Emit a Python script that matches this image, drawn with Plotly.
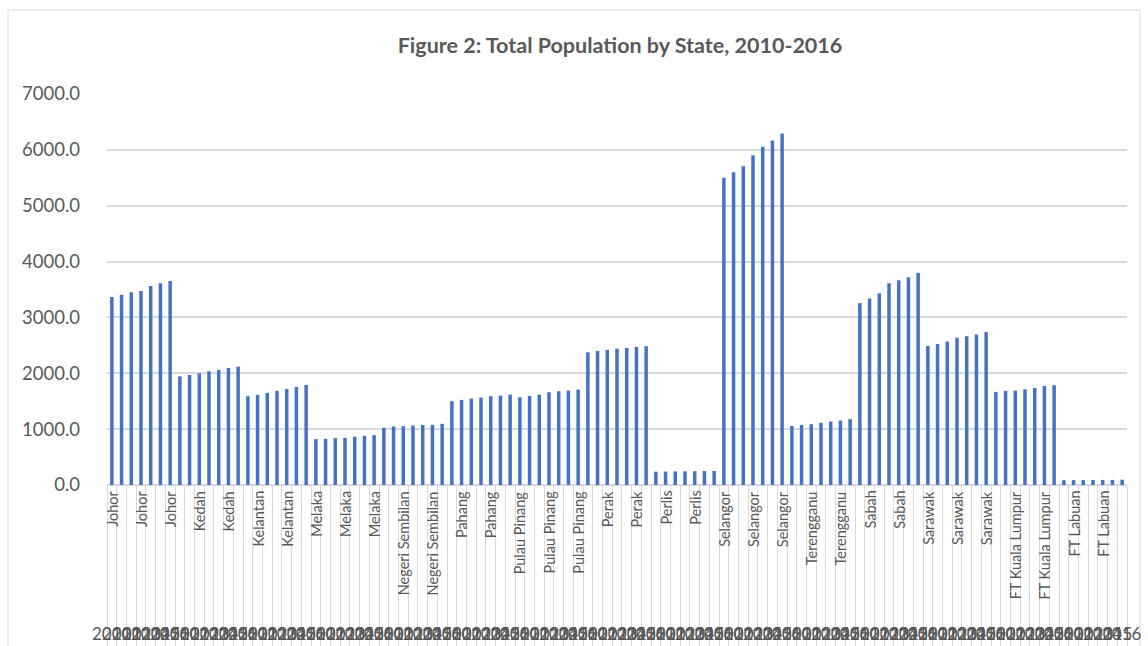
import plotly.graph_objects as go

# Population (thousands) by state, 2010-2016
years = [2010, 2011, 2012, 2013, 2014, 2015, 2016]
states = ["Johor", "Kedah", "Kelantan", "Melaka", "Negeri Sembilan", "Pahang",
          "Pulau Pinang", "Perak", "Perlis", "Selangor", "Terengganu", "Sabah",
          "Sarawak", "FT Kuala Lumpur", "FT Labuan"]

johor = [3365, 3407, 3449, 3473, 3563, 3611, 3653]
kedah = [1946, 1970, 2000, 2036, 2060, 2095, 2119]
kelantan = [1589, 1613, 1649, 1685, 1720, 1756, 1792]
melaka = [821, 827, 839, 845, 863, 881, 893]
negeri_sembilan = [1024, 1048, 1054, 1065, 1074, 1077, 1095]
pahang = [1500, 1524, 1548, 1565, 1589, 1601, 1619]
pulau_pinang = [1571, 1595, 1619, 1661, 1679, 1690, 1708]
perak = [2375, 2399, 2417, 2440, 2452, 2470, 2485]
perlis = [238, 241, 243, 245, 247, 249, 251]
selangor = [5500, 5601, 5708, 5905, 6054, 6167, 6292]
terengganu = [1058, 1075, 1090, 1113, 1137, 1155, 1179]
sabah = [3256, 3339, 3435, 3613, 3667, 3720, 3798]
sarawak = [2488, 2524, 2571, 2637, 2661, 2696, 2738]
ft_kuala_lumpur = [1667, 1685, 1690, 1714, 1738, 1774, 1786]
ft_labuan = [86, 87, 88, 90, 91, 92, 95]

series = [johor, kedah, kelantan, melaka, negeri_sembilan, pahang, pulau_pinang,
          perak, perlis, selangor, terengganu, sabah, sarawak, ft_kuala_lumpur,
          ft_labuan]

# Flatten into one category per (state, year)
cat_state, cat_year, values = [], [], []
for st, vals in zip(states, series):
    for yr, v in zip(years, vals):
        cat_state.append(st)
        cat_year.append(yr)
        values.append(v)
n = len(values)
xs = list(range(n))

TEXT = "#595959"
GRID = "#d9d9d9"
FONT = "Lato"

fig = go.Figure(go.Bar(
    x=xs, y=values, marker_color="#4472c4", width=0.36,
    marker_line_width=0, showlegend=False,
))

annotations = []
# State labels on every third category, rotated
for i in range(0, n, 3):
    annotations.append(dict(
        x=i, y=0, xref="x", yref="y", text=cat_state[i], showarrow=False,
        textangle=-90, xanchor="center", yanchor="top", yshift=-4,
        font=dict(family=FONT, size=14.5, color=TEXT),
    ))
# Year labels for every category
for i in range(n):
    annotations.append(dict(
        x=i, y=0, xref="x", yref="y", text=str(cat_year[i]), showarrow=False,
        xanchor="center", yanchor="middle", yshift=-148,
        font=dict(family=FONT, size=17, color=TEXT),
    ))

fig.update_layout(
    width=1148, height=646,
    margin=dict(l=107, r=21, t=94, b=161, autoexpand=False),
    paper_bgcolor="white", plot_bgcolor="white",
    title=dict(
        text="<b>Figure 2: Total Population by State, 2010-2016</b>",
        x=620 / 1148, xanchor="center", y=1 - 45 / 646, yanchor="middle",
        font=dict(family=FONT, size=21.5, color=TEXT),
    ),
    xaxis=dict(
        range=[-0.5, n - 0.5], automargin=False,
        tickmode="array", tickvals=[i - 0.5 for i in range(n + 1)],
        ticks="outside", ticklen=162, tickwidth=1, tickcolor=GRID,
        showticklabels=False, showgrid=False, zeroline=False,
        showline=False, fixedrange=True,
    ),
    yaxis=dict(
        range=[0, 7000], dtick=1000, tickformat=".1f", automargin=False,
        showgrid=True, gridcolor=GRID, gridwidth=1.5,
        zeroline=True, zerolinecolor=GRID, zerolinewidth=1.5,
        showline=False, ticks="", ticklabelstandoff=26,
        tickfont=dict(family=FONT, size=18.5, color=TEXT),
    ),
    annotations=annotations,
    shapes=[dict(
        type="rect", xref="paper", yref="paper",
        x0=(8 - 107) / 1020, x1=(1140 - 107) / 1020,
        y0=(485 - 650) / 391, y1=(485 - 10) / 391,
        line=dict(color=GRID, width=1), fillcolor="rgba(0,0,0,0)", layer="below",
    )],
)

fig.write_html("out.html")
